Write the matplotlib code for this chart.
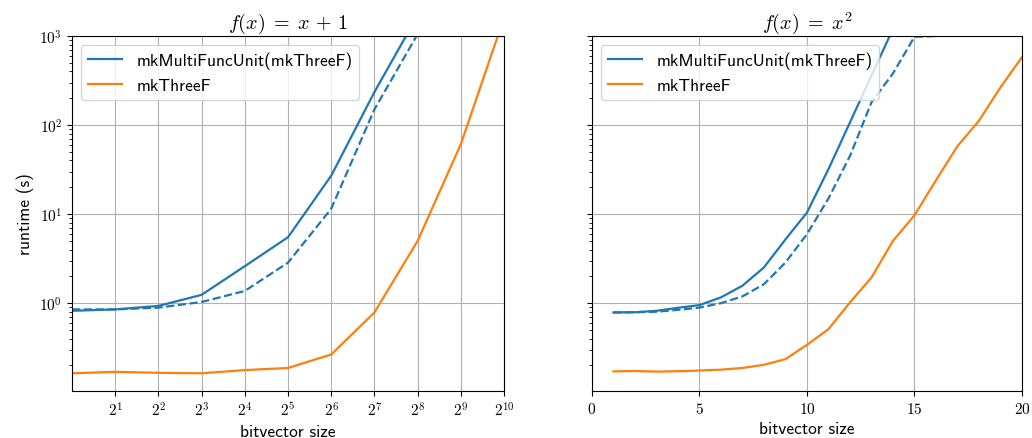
import math

import matplotlib
matplotlib.use("Agg")
import matplotlib.pyplot as plt
from matplotlib.ticker import FixedLocator, FuncFormatter, NullLocator

# bitvector sizes
sizes_pow2 = [1, 2, 4, 8, 16, 32, 64, 128, 256]
sizes_pow2_orange = [1, 2, 4, 8, 16, 32, 64, 128, 256, 512, 1024]
sizes_lin = list(range(1, 21))

# f(x) = x + 1
add_multi = [0.82, 0.85, 0.93, 1.24, 2.6, 5.5, 27, 235, 1700]
add_multi_dashed = [0.85, 0.85, 0.89, 1.03, 1.37, 2.85, 11.5, 150, 1050]
add_three = [0.163, 0.169, 0.165, 0.163, 0.177, 0.187, 0.265, 0.786, 5.0, 61, 1600]

# f(x) = x^2
sq_multi = [0.786, 0.79, 0.82, 0.886, 0.95, 1.16, 1.57, 2.52, 5.2, 10.4,
            32, 107, 360, 1200]
sq_multi_dashed = [0.786, 0.79, 0.80, 0.84, 0.89, 1.0, 1.19, 1.63, 2.86, 5.96,
                   15, 45, 180, 380, 980, 1000]
sq_three = [0.171, 0.173, 0.17, 0.172, 0.175, 0.179, 0.187, 0.203, 0.235, 0.34,
            0.51, 1.02, 1.94, 5.0, 9.7, 24, 58, 112, 265, 580]

plt.rcParams["mathtext.fontset"] = "cm"
SANS = "cmss10"
LABEL_SIZE = 12.5
LW = 1.6

fig = plt.figure(figsize=(10.32, 4.39), dpi=100)
ax1 = fig.add_axes([0.0698, 0.107, 0.4186, 0.8087])
ax2 = fig.add_axes([0.5736, 0.107, 0.4167, 0.8087], sharey=ax1)

# left panel
ax1.plot(sizes_pow2, add_multi, color="C0", lw=LW, label="mkMultiFuncUnit(mkThreeF)")
ax1.plot(sizes_pow2_orange, add_three, color="C1", lw=LW, label="mkThreeF")
ax1.plot(sizes_pow2, add_multi_dashed, color="C0", lw=LW, ls="--")
ax1.set_xscale("log", base=2)
ax1.set_yscale("log")
ax1.set_xlim(1, 1024)
ax1.set_ylim(0.103, 1000)
ax1.xaxis.set_major_locator(FixedLocator([2 ** k for k in range(1, 11)]))
ax1.xaxis.set_minor_locator(NullLocator())
ax1.xaxis.set_major_formatter(FuncFormatter(lambda v, p: r"$2^{%d}$" % round(math.log2(v))))
ax1.yaxis.set_major_formatter(FuncFormatter(lambda v, p: r"$10^{%d}$" % round(math.log10(v))))
ax1.set_title(r"$f(x)\;=\;x\,+\,1$", fontsize=14.5)
ax1.set_xlabel("bitvector size", fontfamily=SANS, fontsize=LABEL_SIZE)
ax1.set_ylabel("runtime (s)", fontfamily=SANS, fontsize=LABEL_SIZE)
ax1.grid(True, which="major", color="#b0b0b0", lw=0.8)
ax1.legend(loc="upper left", prop={"family": SANS, "size": LABEL_SIZE})

# right panel
ax2.plot(sizes_lin[:len(sq_multi)], sq_multi, color="C0", lw=LW, label="mkMultiFuncUnit(mkThreeF)")
ax2.plot(sizes_lin, sq_three, color="C1", lw=LW, label="mkThreeF")
ax2.plot(sizes_lin[:len(sq_multi_dashed)], sq_multi_dashed, color="C0", lw=LW, ls="--")
ax2.set_xlim(0, 20)
ax2.set_xticks([0, 5, 10, 15, 20])
ax2.xaxis.set_major_formatter(FuncFormatter(lambda v, p: r"$%d$" % v))
ax2.tick_params(axis="y", labelleft=False)
ax2.set_title(r"$f(x)\;=\;x^2$", fontsize=14.5)
ax2.set_xlabel("bitvector size", fontfamily=SANS, fontsize=LABEL_SIZE)
ax2.grid(True, which="major", color="#b0b0b0", lw=0.8)
ax2.legend(loc="upper left", prop={"family": SANS, "size": LABEL_SIZE})

for ax in (ax1, ax2):
    ax.tick_params(labelsize=11)

fig.savefig("out.png", dpi=100)
